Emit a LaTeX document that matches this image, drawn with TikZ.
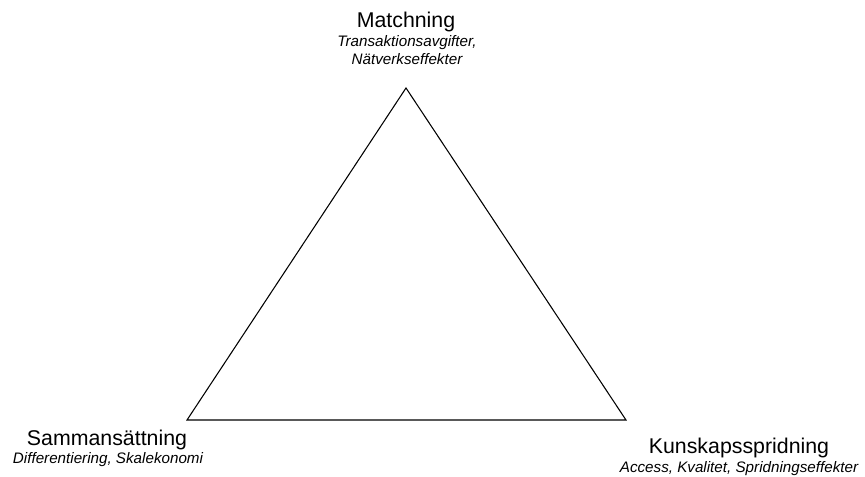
\documentclass[tikz,border=0pt]{standalone}
\usepackage{fontspec}
\setmainfont{Liberation Sans}
\usepackage{tikz}

\tikzset{
  corner/.style={anchor=base, font=\fontsize{16}{19}\selectfont},
  cornersub/.style={anchor=base, align=center, font=\fontsize{11.4}{13.5}\selectfont\itshape}
}

\begin{document}
\begin{tikzpicture}[x=0.75pt,y=-0.75pt]
            \useasboundingbox (0,0) rectangle (865,476);
            \coordinate (top) at (406,88);
            \coordinate (left) at (187,420);
            \coordinate (right) at (626,420);
            \draw[line width=0.8pt, line join=miter] (top) -- (right) -- (left) -- cycle;
            % corner labels
            \node[corner] (match) at (406,27) {Matchning};
            \node[cornersub] (matchsub) at (407,64) {Transaktionsavgifter,\\N\"atverkseffekter};
            \node[corner] (samman) at (107,445) {Sammans\"attning};
            \node[cornersub] (sammansub) at (108,463) {Differentiering, Skalekonomi};
            \node[corner] (kunskap) at (739,453) {Kunskapsspridning};
            \node[cornersub] (kunskapsub) at (739,472) {Access, Kvalitet, Spridningseffekter};
        \end{tikzpicture}
\end{document}
